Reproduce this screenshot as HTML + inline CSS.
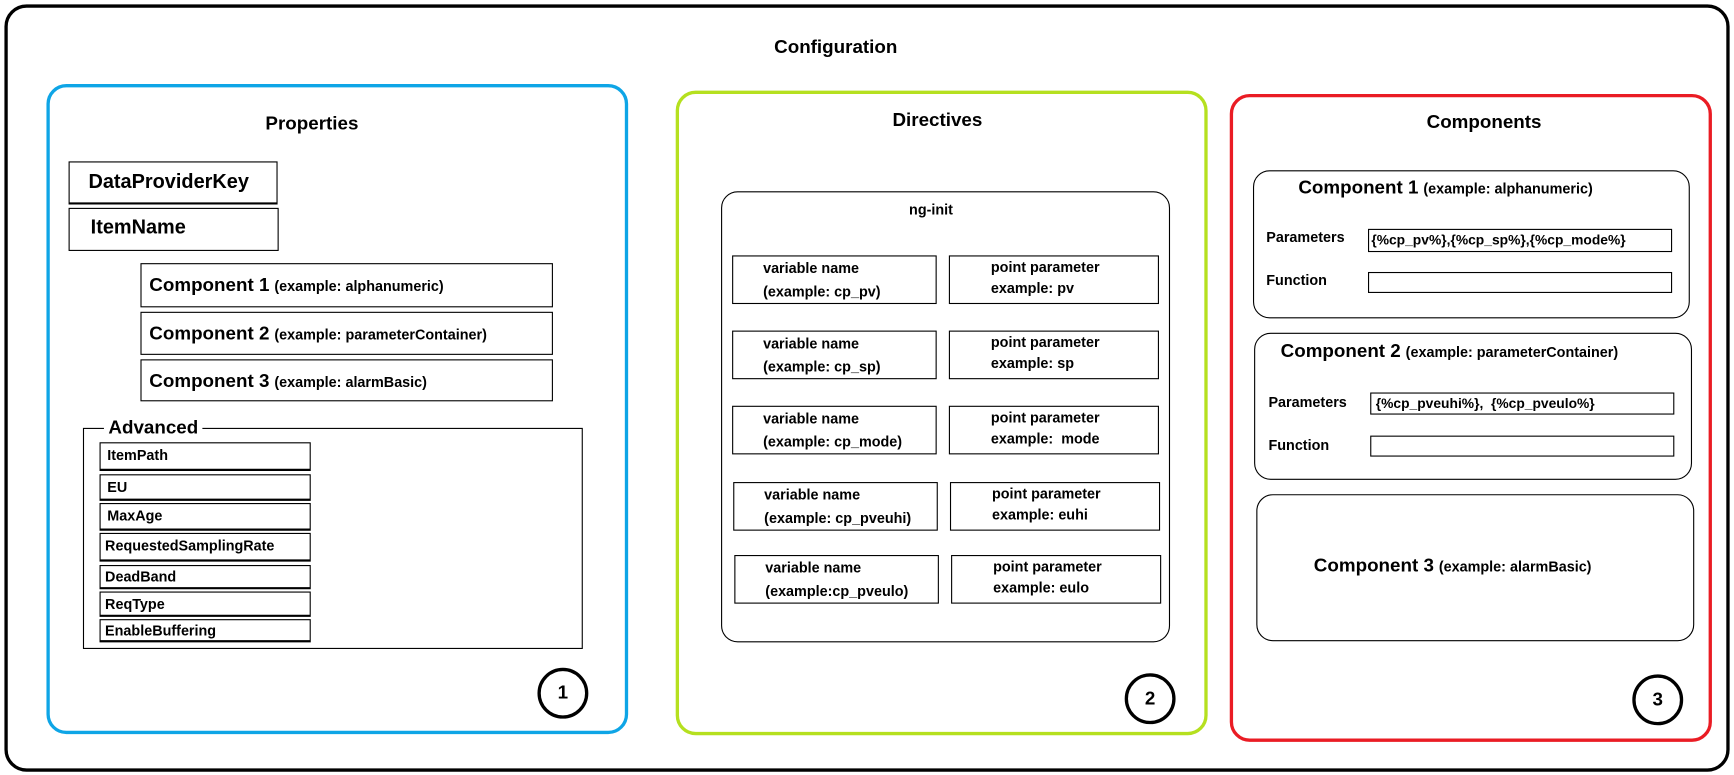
<!DOCTYPE html>
<html><head><meta charset="utf-8"><style>
*{margin:0;padding:0;box-sizing:border-box}
body{width:1734px;height:775px;background:#fff;overflow:hidden;font-family:"Liberation Sans",sans-serif;font-weight:bold;color:#000}
#w{position:absolute;left:0;top:0;width:1568px;height:701px;transform:scale(1.1059,1.1056);transform-origin:0 0}
.a{position:absolute}
.b{position:absolute;border:1px solid #000}
.t{position:absolute;white-space:nowrap}
.big{font-size:17px}
.sm{font-size:13px}
.c{position:absolute;border:3px solid #000;border-radius:50%;width:46px;height:46px;text-align:center;line-height:40px;font-size:17px;font-weight:bold}
.row{position:absolute;border:1px solid #000;font-size:13px;line-height:21px;padding-left:27px}
.adv{position:absolute;border:1px solid #000;border-bottom-width:2px;font-size:13px;line-height:22px;padding-left:6px;left:90px;width:191px}
</style></head><body><div id="w">
<div class="a" style="left:4px;top:4px;width:1560px;height:694px;border:3px solid #000;border-radius:20px"></div>
<div class="t big" style="left:700px;top:33px">Configuration</div>

<!-- Properties -->
<div class="a" style="left:42px;top:76px;width:526px;height:588px;border:3px solid #0ea5e6;border-radius:18px"></div>
<div class="t big" style="left:240px;top:102px">Properties</div>
<div class="b" style="left:62px;top:146px;width:189px;height:39px;border-bottom-width:2px"></div>
<div class="t" style="left:80px;top:154px;font-size:18px">DataProviderKey</div>
<div class="b" style="left:62px;top:188px;width:190px;height:39px"></div>
<div class="t" style="left:82px;top:195px;font-size:18px">ItemName</div>
<div class="b" style="left:127px;top:238px;width:373px;height:40px"></div>
<div class="t" style="left:135px;top:248px"><span class="big">Component 1</span> <span class="sm">(example: alphanumeric)</span></div>
<div class="b" style="left:127px;top:282px;width:373px;height:39px"></div>
<div class="t" style="left:135px;top:292px"><span class="big">Component 2</span> <span class="sm">(example: parameterContainer)</span></div>
<div class="b" style="left:127px;top:325px;width:373px;height:38px"></div>
<div class="t" style="left:135px;top:335px"><span class="big">Component 3</span> <span class="sm">(example: alarmBasic)</span></div>
<div class="b" style="left:75px;top:387px;width:452px;height:200px"></div>
<div class="t big" style="left:94px;top:377px;background:#fff;padding:0 4px">Advanced</div>
<div class="adv" style="top:400px;height:26px">ItemPath</div>
<div class="adv" style="top:429px;height:24px">EU</div>
<div class="adv" style="top:455px;height:25px">MaxAge</div>
<div class="adv" style="top:482px;height:26px;padding-left:4px">RequestedSamplingRate</div>
<div class="adv" style="top:511px;height:22px;line-height:20px;padding-left:4px">DeadBand</div>
<div class="adv" style="top:535px;height:23px;line-height:21px;padding-left:4px">ReqType</div>
<div class="adv" style="top:560px;height:21px;line-height:19px;padding-left:4px">EnableBuffering</div>
<div class="c" style="left:486px;top:604px">1</div>

<!-- Directives -->
<div class="a" style="left:611px;top:82px;width:481px;height:583px;border:3px solid #b5e01f;border-radius:18px"></div>
<div class="t big" style="left:807px;top:99px">Directives</div>
<div class="b" style="left:652px;top:173px;width:406px;height:408px;border-radius:15px"></div>
<div class="t sm" style="left:822px;top:182px">ng-init</div>

<div class="row" style="left:662px;top:231px;width:185px;height:44px">variable name<br>(example: cp_pv)</div>
<div class="row" style="left:858px;top:231px;width:190px;height:44px;padding-left:37px;line-height:19px">point parameter<br>example: pv</div>
<div class="row" style="left:662px;top:299px;width:185px;height:44px">variable name<br>(example: cp_sp)</div>
<div class="row" style="left:858px;top:299px;width:190px;height:44px;padding-left:37px;line-height:19px">point parameter<br>example: sp</div>
<div class="row" style="left:662px;top:367px;width:185px;height:44px">variable name<br>(example: cp_mode)</div>
<div class="row" style="left:858px;top:367px;width:190px;height:44px;padding-left:37px;line-height:19px">point parameter<br>example:&nbsp; mode</div>
<div class="row" style="left:663px;top:436px;width:185px;height:44px">variable name<br>(example: cp_pveuhi)</div>
<div class="row" style="left:859px;top:436px;width:190px;height:44px;padding-left:37px;line-height:19px">point parameter<br>example: euhi</div>
<div class="row" style="left:664px;top:502px;width:185px;height:44px">variable name<br>(example:cp_pveulo)</div>
<div class="row" style="left:860px;top:502px;width:190px;height:44px;padding-left:37px;line-height:19px">point parameter<br>example: eulo</div>
<div class="c" style="left:1017px;top:609px">2</div>

<!-- Components -->
<div class="a" style="left:1112px;top:85px;width:436px;height:586px;border:3px solid #ea1c24;border-radius:18px"></div>
<div class="t big" style="left:1290px;top:101px">Components</div>

<div class="b" style="left:1133px;top:154px;width:395px;height:134px;border-radius:15px"></div>
<div class="t" style="left:1174px;top:160px"><span class="big">Component 1</span> <span class="sm">(example: alphanumeric)</span></div>
<div class="t sm" style="left:1145px;top:207px">Parameters</div>
<div class="b" style="left:1237px;top:207px;width:275px;height:21px;font-size:12.5px;line-height:19px;padding-left:2px;white-space:nowrap;overflow:hidden">{%cp_pv%},{%cp_sp%},{%cp_mode%}</div>
<div class="t sm" style="left:1145px;top:246px">Function</div>
<div class="b" style="left:1237px;top:246px;width:275px;height:19px"></div>

<div class="b" style="left:1134px;top:301px;width:396px;height:133px;border-radius:15px"></div>
<div class="t" style="left:1158px;top:308px"><span class="big">Component 2</span> <span class="sm">(example: parameterContainer)</span></div>
<div class="t sm" style="left:1147px;top:356px">Parameters</div>
<div class="b" style="left:1239px;top:355px;width:275px;height:20px;font-size:12.5px;line-height:18px;padding-left:4px;white-space:nowrap">{%cp_pveuhi%},&nbsp; {%cp_pveulo%}</div>
<div class="t sm" style="left:1147px;top:395px">Function</div>
<div class="b" style="left:1239px;top:394px;width:275px;height:19px"></div>

<div class="b" style="left:1136px;top:447px;width:396px;height:133px;border-radius:15px"></div>
<div class="t" style="left:1188px;top:502px"><span class="big">Component 3</span> <span class="sm">(example: alarmBasic)</span></div>
<div class="c" style="left:1476px;top:610px">3</div>
</div></body></html>
